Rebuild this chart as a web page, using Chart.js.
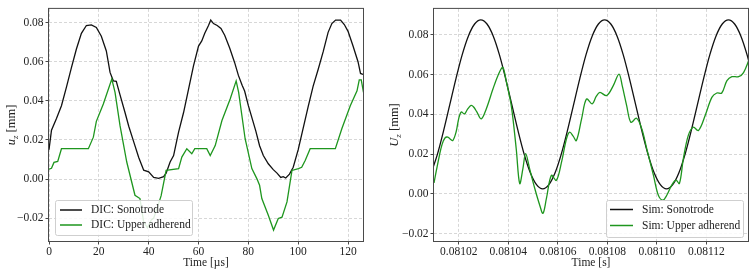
<!DOCTYPE html>
<html>
<head>
<meta charset="utf-8">
<script src="https://cdn.jsdelivr.net/npm/chart.js@4.4.1/dist/chart.umd.min.js"></script>
<style>
  html, body { margin: 0; padding: 0; background: #fff; }
  canvas { position: absolute; top: 0; }
  #dicChart { left: 0; }
  #simChart { left: 375px; }
</style>
</head>
<body>
<canvas id="dicChart" width="375" height="275"></canvas>
<canvas id="simChart" width="379" height="275"></canvas>
<script>
// ---- DIC measurement (left), time in µs, displacement in mm
const dicSonoTime = [0, 1, 3, 5, 7, 9, 11, 13, 15, 17, 19, 21, 23, 24.5, 25.8, 27, 28.5, 30.5, 32, 34,
  36, 38, 40, 42, 44, 46, 47, 48.6, 50, 51.5, 52, 54, 56, 58, 60, 61.3, 62.5, 64, 64.9, 66,
  67.5, 69, 70.5, 72.5, 74.5, 76, 77.5, 78.5, 80, 81.5, 83, 84.5, 86, 88, 90, 91.5, 93, 94, 95, 96.5,
  98, 100, 102, 104, 106, 108, 110, 112, 113.5, 115, 117, 118.5, 120, 122, 124, 125, 126];
const dicSonoDisp = [0.0150, 0.0250, 0.0310, 0.0375, 0.0470, 0.0570, 0.0665, 0.0745, 0.0785, 0.0788,
  0.0775, 0.0730, 0.0655, 0.0545, 0.0502, 0.0500, 0.0430, 0.0340, 0.0270, 0.0190,
  0.0110, 0.0045, 0.0037, 0.0008, 0.0003, 0.0012, 0.0030, 0.0087, 0.0120, 0.0210,
  0.0240, 0.0340, 0.0460, 0.0580, 0.0680, 0.0706, 0.0745, 0.0785, 0.0813, 0.0795,
  0.0785, 0.0770, 0.0735, 0.0670, 0.0595, 0.0530, 0.0480, 0.0450, 0.0375, 0.0310,
  0.0245, 0.0170, 0.0120, 0.0078, 0.0048, 0.0030, 0.0008, 0.0012, 0.0005, 0.0025,
  0.0060, 0.0150, 0.0260, 0.0370, 0.0475, 0.0560, 0.0650, 0.0750, 0.0795, 0.0813,
  0.0813, 0.0790, 0.0755, 0.0680, 0.0600, 0.0540, 0.0535];

const dicUpperTime = [0, 1, 2, 3.5, 5, 15.8, 17.8, 19, 21.8, 25.2, 26.5, 28.5, 31.2, 34.5, 36.5, 38, 39.5, 41, 42, 43.5,
  45, 47, 52, 53.3, 55.3, 57.3, 58.5, 63.3, 64.7, 66.7, 69.4, 72.7, 75.1, 76.1, 78.7, 81.4, 83.4, 84.5, 85.4, 88,
  90.1, 92, 93.5, 95.5, 97.5, 100.1, 101.4, 102.8, 104.8, 114.9, 117.5, 120.9, 123.6, 124.5, 125.3, 126.2];
const dicUpperDisp = [0.0050, 0.0055, 0.0085, 0.0090, 0.0155, 0.0155, 0.0214, 0.0295, 0.0384, 0.0511,
  0.0443, 0.0273, 0.0087, -0.0083, -0.0100, -0.0220, -0.0250, -0.0210, -0.0200, -0.0145,
  -0.0085, 0.0044, 0.0053, 0.0112, 0.0155, 0.0129, 0.0155, 0.0155, 0.0120, 0.0171,
  0.0299, 0.0409, 0.0502, 0.0443, 0.0206, 0.0053, 0.0002, -0.0032, -0.0100, -0.0185,
  -0.0261, -0.0202, -0.0195, -0.0117, 0.0044, 0.0053, 0.0060, 0.0095, 0.0155, 0.0155,
  0.0257, 0.0375, 0.0451, 0.0507, 0.0507, 0.0443];

// ---- Simulation (right), time in s, displacement in mm
const simSonoTime = [0.0810089, 0.0810114, 0.0810139, 0.0810164, 0.0810189, 0.0810214, 0.0810239, 0.0810264,
  0.0810289, 0.0810314, 0.0810339, 0.0810364, 0.0810389, 0.0810414, 0.0810439, 0.0810464, 0.0810489,
  0.0810514, 0.0810539, 0.0810564, 0.0810589, 0.0810614, 0.0810639, 0.0810664, 0.0810689, 0.0810714,
  0.0810739, 0.0810764, 0.0810789, 0.0810814, 0.0810839, 0.0810864, 0.0810889, 0.0810914, 0.0810939,
  0.0810964, 0.0810989, 0.0811014, 0.0811039, 0.0811064, 0.0811089, 0.0811114, 0.0811139, 0.0811164,
  0.0811189, 0.0811214, 0.0811239, 0.0811264, 0.0811289, 0.0811314, 0.0811339, 0.0811364, 0.0811389];
const simSonoDisp = [0.0106, 0.0200, 0.0319, 0.0450, 0.0581, 0.0700, 0.0794, 0.0854,
  0.0875, 0.0854, 0.0794, 0.0700, 0.0581, 0.0450, 0.0319, 0.0200, 0.0106,
  0.0046, 0.0025, 0.0046, 0.0106, 0.0200, 0.0319, 0.0450, 0.0581, 0.0700,
  0.0794, 0.0854, 0.0875, 0.0854, 0.0794, 0.0700, 0.0581, 0.0450, 0.0319,
  0.0200, 0.0106, 0.0046, 0.0025, 0.0046, 0.0106, 0.0200, 0.0319, 0.0450,
  0.0581, 0.0700, 0.0794, 0.0854, 0.0875, 0.0854, 0.0794, 0.0700, 0.0581];

const simUpperTime = [0.0810100, 0.0810110, 0.0810122, 0.0810133, 0.0810145, 0.0810156, 0.0810166, 0.0810176,
  0.0810189, 0.0810200, 0.0810210, 0.0810223, 0.0810235, 0.0810250, 0.0810260, 0.0810273, 0.0810291,
  0.0810311, 0.0810338, 0.0810358, 0.0810376, 0.0810383, 0.0810392, 0.0810412, 0.0810432, 0.0810446,
  0.0810459, 0.0810470, 0.0810486, 0.0810507, 0.0810527, 0.0810540, 0.0810554, 0.0810574, 0.0810594,
  0.0810615, 0.0810635, 0.0810648, 0.0810662, 0.0810675, 0.0810696, 0.0810716, 0.0810739, 0.0810755,
  0.0810770, 0.0810797, 0.0810824, 0.0810847, 0.0810860, 0.0810878, 0.0810895, 0.0810918, 0.0810939,
  0.0810959, 0.0810986, 0.0811006, 0.0811024, 0.0811040, 0.0811060, 0.0811077, 0.0811091, 0.0811107,
  0.0811127, 0.0811147, 0.0811168, 0.0811195, 0.0811222, 0.0811242, 0.0811262, 0.0811283, 0.0811303,
  0.0811330, 0.0811350, 0.0811374];
const simUpperDisp = [0.0055, 0.0120, 0.0194, 0.0250, 0.0282, 0.0285, 0.0275, 0.0268, 0.0310, 0.0380,
  0.0412, 0.0402, 0.0425, 0.0445, 0.0437, 0.0412, 0.0377, 0.0427, 0.0527, 0.0594,
  0.0637, 0.0620, 0.0565, 0.0444, 0.0227, 0.0052, 0.0127, 0.0202, 0.0127, 0.0027,
  -0.0057, -0.0098, -0.0023, 0.0093, 0.0068, 0.0160, 0.0277, 0.0310, 0.0290, 0.0268,
  0.0377, 0.0477, 0.0452, 0.0490, 0.0510, 0.0494, 0.0544, 0.0602, 0.0544, 0.0444,
  0.0360, 0.0380, 0.0327, 0.0227, 0.0094, -0.0007, -0.0032, -0.0007, 0.0044, 0.0069,
  0.0052, 0.0177, 0.0294, 0.0335, 0.0319, 0.0394, 0.0485, 0.0507, 0.0507, 0.0569,
  0.0589, 0.0589, 0.0610, 0.0680];

// ---- tick values
const dicXTicks = [0, 20, 40, 60, 80, 100, 120];
const simXTicks = [0.08102, 0.08104, 0.08106, 0.08108, 0.08110, 0.08112];
const dispTicks = [-0.02, 0, 0.02, 0.04, 0.06, 0.08];

const serif = "'Liberation Serif', 'DejaVu Serif', 'Times New Roman', serif";
Chart.defaults.font.family = serif;
Chart.defaults.font.size = 11.5;
Chart.defaults.color = '#222';

const BLACK = '#111111';
const GREEN = '#1e961e';

// matplotlib-like box around the plot area
const frameBox = {
  id: 'frameBox',
  afterDraw(chart) {
    const { ctx, chartArea: a } = chart;
    ctx.save();
    ctx.strokeStyle = '#4a4a4a';
    ctx.lineWidth = 1;
    ctx.strokeRect(a.left - 0.5, a.top - 0.5, a.right - a.left + 1, a.bottom - a.top + 1);
    ctx.restore();
  }
};

// rotated y title with italic symbol and subscript
const yTitle = {
  id: 'yTitle',
  afterDraw(chart, args, o) {
    const { ctx, chartArea: a } = chart;
    const fMain = 'italic 12.5px ' + serif;
    const fSub = 'italic 9px ' + serif;
    const fUnit = '12.5px ' + serif;
    ctx.save();
    ctx.fillStyle = '#222';
    ctx.font = fMain; const w1 = ctx.measureText(o.symbol).width;
    ctx.font = fSub; const w2 = ctx.measureText(o.sub).width;
    ctx.font = fUnit; const w3 = ctx.measureText(o.unit).width;
    ctx.translate(o.x, (a.top + a.bottom) / 2);
    ctx.rotate(-Math.PI / 2);
    ctx.textBaseline = 'alphabetic';
    let x = -(w1 + w2 + w3) / 2;
    ctx.font = fMain; ctx.fillText(o.symbol, x, 4); x += w1;
    ctx.font = fSub; ctx.fillText(o.sub, x, 6.5); x += w2;
    ctx.font = fUnit; ctx.fillText(o.unit, x, 4);
    ctx.restore();
  }
};

// legend box drawn inside the plot area
const boxLegend = {
  id: 'boxLegend',
  afterDraw(chart, args, o) {
    const { ctx } = chart;
    ctx.save();
    ctx.fillStyle = 'rgba(255,255,255,0.85)';
    ctx.strokeStyle = '#cfcfcf';
    ctx.lineWidth = 1;
    ctx.beginPath();
    if (ctx.roundRect) ctx.roundRect(o.x + 0.5, o.y + 0.5, o.w, o.h, 2);
    else ctx.rect(o.x + 0.5, o.y + 0.5, o.w, o.h);
    ctx.fill();
    ctx.stroke();
    ctx.font = '11.5px ' + serif;
    ctx.textBaseline = 'middle';
    chart.data.datasets.forEach((ds, i) => {
      const y = o.rows[i];
      ctx.strokeStyle = ds.borderColor;
      ctx.lineWidth = 1.5;
      ctx.beginPath();
      ctx.moveTo(o.lineFrom, y);
      ctx.lineTo(o.lineTo, y);
      ctx.stroke();
      ctx.fillStyle = '#222';
      ctx.fillText(ds.label, o.textX, y);
    });
    ctx.restore();
  }
};

function toPoints(xs, ys) {
  return xs.map((x, i) => ({ x: x, y: ys[i] }));
}

function fixTicks(list) {
  return scale => { scale.ticks = list.map(v => ({ value: v })); };
}

const gridStyle = {
  color: 'rgba(0,0,0,0.2)',
  lineWidth: 0.8,
  drawTicks: true,
  tickLength: 3.5,
  tickColor: '#333',
  tickWidth: 0.9,
  tickBorderDash: []
};
const borderStyle = { display: false, dash: [3, 2] };

function minusSign(s) { return s.replace('-', '\u2212'); }

function drawPanel(canvasId, cfg) {
  const ctx = document.getElementById(canvasId).getContext('2d');
  return new Chart(ctx, {
    type: 'line',
    data: {
      datasets: [
        {
          label: cfg.labels[0],
          data: toPoints(cfg.sono.x, cfg.sono.y),
          borderColor: BLACK,
          borderWidth: 1.3,
          pointRadius: 0,
          fill: false,
          order: 1,
          cubicInterpolationMode: cfg.smooth ? 'monotone' : 'default',
          tension: 0
        },
        {
          label: cfg.labels[1],
          data: toPoints(cfg.upper.x, cfg.upper.y),
          borderColor: GREEN,
          borderWidth: 1.3,
          pointRadius: 0,
          fill: false,
          order: 0,
          tension: cfg.smooth ? 0.35 : 0
        }
      ]
    },
    options: {
      responsive: false,
      animation: false,
      events: [],
      layout: { padding: { left: 0, right: cfg.padRight, top: 8, bottom: 0 } },
      plugins: {
        legend: { display: false },
        tooltip: { enabled: false },
        yTitle: cfg.yTitle,
        boxLegend: cfg.legend
      },
      scales: {
        x: {
          type: 'linear',
          min: cfg.xMin,
          max: cfg.xMax,
          afterBuildTicks: fixTicks(cfg.xTicks),
          afterFit: s => { s.height = 34; },
          ticks: { padding: 1, maxRotation: 0, autoSkip: false, callback: cfg.xFormat },
          grid: gridStyle,
          border: borderStyle,
          title: { display: true, text: cfg.xTitle, padding: { top: 0, bottom: 5 } }
        },
        y: {
          type: 'linear',
          min: cfg.yMin,
          max: cfg.yMax,
          afterBuildTicks: fixTicks(dispTicks),
          afterFit: s => { s.width = cfg.yWidth; },
          ticks: { padding: 2, autoSkip: false, callback: v => minusSign(v.toFixed(2)) },
          grid: gridStyle,
          border: borderStyle
        }
      }
    },
    plugins: [frameBox, yTitle, boxLegend]
  });
}

drawPanel('dicChart', {
  labels: ['DIC: Sonotrode', 'DIC: Upper adherend'],
  sono: { x: dicSonoTime, y: dicSonoDisp },
  upper: { x: dicUpperTime, y: dicUpperDisp },
  smooth: false,
  xMin: 0, xMax: 126, xTicks: dicXTicks,
  xFormat: v => String(v),
  xTitle: 'Time [\u00b5s]',
  yMin: -0.0317, yMax: 0.087,
  yWidth: 49, padRight: 12,
  yTitle: { x: 11, symbol: 'u', sub: 'z', unit: ' [mm]' },
  legend: { x: 55, y: 200, w: 137, h: 35, rows: [210, 225], lineFrom: 60, lineTo: 82, textX: 91 }
});

drawPanel('simChart', {
  labels: ['Sim: Sonotrode', 'Sim: Upper adherend'],
  sono: { x: simSonoTime, y: simSonoDisp },
  upper: { x: simUpperTime, y: simUpperDisp },
  smooth: true,
  xMin: 0.08101, xMax: 0.0811368, xTicks: simXTicks,
  xFormat: v => v.toFixed(5),
  xTitle: 'Time [s]',
  yMin: -0.0237, yMax: 0.093,
  yWidth: 59, padRight: 6,
  yTitle: { x: 19, symbol: 'U', sub: 'z', unit: ' [mm]' },
  legend: { x: 231, y: 200, w: 137, h: 37, rows: [209.5, 225.5], lineFrom: 235, lineTo: 258, textX: 267 }
});
</script>
</body>
</html>
